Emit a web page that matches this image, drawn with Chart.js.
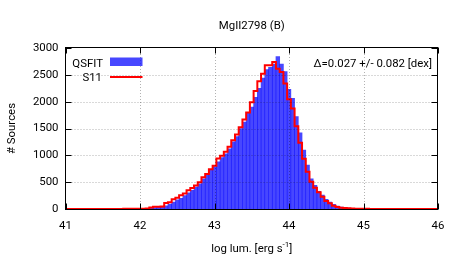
<!DOCTYPE html>
<html>
<head>
<meta charset="utf-8">
<script src="https://cdn.jsdelivr.net/npm/chart.js@4.4.0/dist/chart.umd.min.js"></script>
<style>
  body { margin: 0; background: #fff; }
  canvas { display: block; }
</style>
</head>
<body>
<canvas id="histCanvas" width="457" height="274"></canvas>
<script>
// bins are centred on 41.00, 41.05 ... 46.00 (0.05 dex wide)
const binFirst = 41.0;
const binWidth = 0.05;

// # sources per bin, QSFIT (blue boxes)
const qsfitCounts = [
  0, 0, 0, 0, 0, 0, 0, 0, 0, 0,
  0, 0, 0, 0, 0, 0, 0, 0, 0, 1,
  2, 3, 5, 15, 25, 35, 45, 60, 90, 130,
  170, 200, 250, 300, 350, 410, 470, 560, 630, 720,
  790, 880, 960, 1030, 1120, 1250, 1350, 1500, 1620, 1800,
  1900, 2080, 2250, 2440, 2600, 2640, 2700, 2840, 2700, 2560,
  2230, 2060, 1720, 1420, 1100, 820, 560, 440, 330, 260,
  180, 130, 85, 55, 35, 25, 18, 12, 8, 5,
  3, 2, 1, 1, 0, 0, 0, 0, 0, 0,
  0, 0, 0, 0, 0, 0, 0, 0, 0, 0, 0
];

// # sources per bin, S11 (red steps)
const s11Counts = [
  1, 1, 1, 1, 1, 1, 1, 1, 1, 1,
  1, 1, 2, 2, 2, 2, 3, 3, 3, 4,
  4, 5, 8, 30, 40, 40, 45, 110, 125, 180,
  210, 255, 290, 350, 390, 440, 500, 590, 650, 740,
  805, 940, 990, 1065, 1160, 1280, 1390, 1525, 1670, 1800,
  1990, 2200, 2380, 2520, 2680, 2680, 2740, 2615, 2555, 2337,
  2046, 1872, 1544, 1234, 936, 694, 508, 397, 310, 229,
  149, 105, 62, 37, 25, 18, 12, 8, 6, 4,
  3, 3, 2, 2, 2, 1, 1, 1, 1, 1,
  1, 1, 1, 1, 1, 1, 1, 1, 1, 1, 1
];

const xTicks = [41, 42, 43, 44, 45, 46];
const yTicks = [0, 500, 1000, 1500, 2000, 2500, 3000];

const FONT = 'Roboto, sans-serif';
const FSIZE = 11.4;

function toPoints(counts) {
  return counts.map((c, i) => ({ x: +(binFirst + i * binWidth).toFixed(2), y: c }));
}

// gnuplot-ish frame: dotted grid in front, box border, mirrored inward ticks, labels
const gnuplotLook = {
  id: 'gnuplotLook',
  afterDatasetsDraw(chart) {
    const ctx = chart.ctx;
    const a = chart.chartArea;
    const xs = chart.scales.x, ys = chart.scales.y;
    ctx.save();

    ctx.strokeStyle = 'rgba(0,0,0,0.3)';
    ctx.lineWidth = 1;
    ctx.setLineDash([1, 2]);
    ctx.beginPath();
    xTicks.slice(1, -1).forEach(v => {
      const px = Math.round(xs.getPixelForValue(v)) + 0.5;
      ctx.moveTo(px, a.top); ctx.lineTo(px, a.bottom);
    });
    yTicks.slice(1, -1).forEach(v => {
      const py = Math.round(ys.getPixelForValue(v)) + 0.5;
      ctx.moveTo(a.left, py); ctx.lineTo(a.right, py);
    });
    ctx.stroke();
    ctx.setLineDash([]);

    const L = Math.round(a.left) - 0.5, R = Math.round(a.right) - 0.5;
    const T = Math.round(a.top) - 0.5, B = Math.round(a.bottom) + 0.5;
    ctx.strokeStyle = '#000';
    ctx.strokeRect(L, T, R - L, B - T);
    const tk = 6;
    ctx.beginPath();
    xTicks.forEach(v => {
      const px = Math.round(xs.getPixelForValue(v)) + 0.5;
      ctx.moveTo(px, B); ctx.lineTo(px, B - tk);
      ctx.moveTo(px, T); ctx.lineTo(px, T + tk);
    });
    yTicks.forEach(v => {
      const py = Math.round(ys.getPixelForValue(v)) + 0.5;
      ctx.moveTo(L, py); ctx.lineTo(L + tk, py);
      ctx.moveTo(R, py); ctx.lineTo(R - tk, py);
    });
    ctx.stroke();
    ctx.restore();
  },
  afterDraw(chart) {
    const ctx = chart.ctx;
    const a = chart.chartArea;
    const cx = (a.left + a.right) / 2;
    const f = s => s + 'px ' + FONT;
    ctx.save();
    ctx.fillStyle = '#000';
    ctx.font = f(FSIZE);

    ctx.textAlign = 'center';
    ctx.textBaseline = 'alphabetic';
    ctx.fillText('MgII2798 (B)', cx, 29);

    // x title with superscript
    const main = 'log lum. [erg s', sup = '-1', tail = ']';
    const wMain = ctx.measureText(main).width;
    const wTail = ctx.measureText(tail).width;
    ctx.font = f(8);
    const wSup = ctx.measureText(sup).width;
    const x0 = cx - (wMain + wSup + wTail) / 2;
    ctx.textAlign = 'left';
    ctx.font = f(FSIZE);
    ctx.fillText(main, x0, 251.5);
    ctx.font = f(8);
    ctx.fillText(sup, x0 + wMain, 246.5);
    ctx.font = f(FSIZE);
    ctx.fillText(tail, x0 + wMain + wSup, 251.5);

    // y title
    ctx.save();
    ctx.translate(12, (a.top + a.bottom) / 2);
    ctx.rotate(-Math.PI / 2);
    ctx.textAlign = 'center';
    ctx.textBaseline = 'middle';
    ctx.fillText('# Sources', 0, 0);
    ctx.restore();

    // key, top left (text then sample, gnuplot style)
    ctx.textAlign = 'right';
    ctx.fillText('QSFIT', 103, 66.5);
    ctx.fillText('S11', 102, 81);
    ctx.fillStyle = 'rgba(0,0,255,0.72)';
    ctx.fillRect(110, 57.5, 32.5, 8.5);
    ctx.strokeStyle = '#ff0000';
    ctx.lineWidth = 2;
    ctx.beginPath();
    ctx.moveTo(110, 77); ctx.lineTo(142.5, 77);
    ctx.stroke();

    ctx.fillStyle = '#000';
    ctx.fillText('\u0394=0.027 +/- 0.082 [dex]', 432, 66.5);
    ctx.restore();
  }
};

new Chart(document.getElementById('histCanvas'), {
  type: 'bar',
  data: {
    datasets: [
      {
        type: 'line',
        label: 'S11',
        data: toPoints(s11Counts),
        stepped: 'middle',
        borderColor: '#ff0000',
        borderWidth: 2,
        pointRadius: 0,
        fill: false,
        order: 0
      },
      {
        type: 'bar',
        label: 'QSFIT',
        data: toPoints(qsfitCounts),
        backgroundColor: 'rgba(0,0,255,0.72)',
        borderWidth: 0,
        barPercentage: 1,
        categoryPercentage: 1,
        order: 1
      }
    ]
  },
  options: {
    responsive: false,
    animation: false,
    devicePixelRatio: 1,
    layout: { padding: { left: 0, right: 19, top: 48, bottom: 0 } },
    plugins: { legend: { display: false }, tooltip: { enabled: false }, title: { display: false } },
    scales: {
      x: {
        type: 'linear',
        offset: false,
        min: 41,
        max: 46,
        afterBuildTicks: s => { s.ticks = xTicks.map(v => ({ value: v })); },
        afterFit: s => { s.height = 65; },
        grid: { display: false, drawTicks: false },
        border: { display: false },
        ticks: { color: '#000', font: { family: FONT, size: FSIZE }, padding: 10, maxRotation: 0,
                 callback: v => String(v) }
      },
      y: {
        type: 'linear',
        min: 0,
        max: 3000,
        afterBuildTicks: s => { s.ticks = yTicks.map(v => ({ value: v })); },
        afterFit: s => { s.width = 65.5; },
        grid: { display: false, drawTicks: false },
        border: { display: false },
        ticks: { color: '#000', font: { family: FONT, size: FSIZE }, padding: 7,
                 callback: v => String(v) }
      }
    }
  },
  plugins: [gnuplotLook]
});
</script>
</body>
</html>
